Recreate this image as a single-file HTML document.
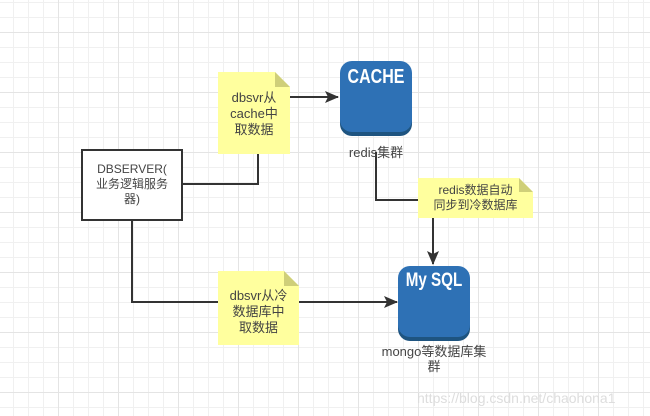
<!DOCTYPE html>
<html><head><meta charset="utf-8"><style>
body{margin:0;width:650px;height:416px;overflow:hidden;font-family:"Liberation Sans","Noto Sans CJK SC",sans-serif;
background-color:#fff;
background-image:linear-gradient(#e4e4e4 1px,transparent 1px),linear-gradient(90deg,#e4e4e4 1px,transparent 1px),linear-gradient(#f0f0f0 1px,transparent 1px),linear-gradient(90deg,#f0f0f0 1px,transparent 1px);
background-size:60px 60px,60px 60px,15px 15px,15px 15px;
background-position:0 32px,58px 0,0 2px,13px 0;}
.t{position:absolute;font-size:12px;color:#444;text-align:center;line-height:15px}
</style></head><body>
<svg width="650" height="416" style="position:absolute;left:0;top:0">
<defs>
<marker id="a" markerWidth="14" markerHeight="12" refX="13" refY="6" orient="auto" markerUnits="userSpaceOnUse"><path d="M0,0 L14,6 L0,12 L3,6z" fill="#333"/></marker>
</defs>
<g stroke="#333" stroke-width="2" fill="none">
<polyline points="182,184 258,184 258,97 338,97" marker-end="url(#a)"/>
<polyline points="376,152 376,200 433,200 433,264" marker-end="url(#a)"/>
<polyline points="132,220 132,302 397,302" marker-end="url(#a)"/>
</g>
<rect x="82" y="150" width="100" height="70" fill="#fff" stroke="#333" stroke-width="2"/>
<path d="M218,72 H275 L290,87 V154 H218Z" fill="#ffff9e"/><path d="M275,72 L290,87 H275Z" fill="#cfcf79"/>
<path d="M418,178 H519 L533,192 V218 H418Z" fill="#ffff9e"/><path d="M519,178 L533,192 H519Z" fill="#cfcf79"/>
<path d="M218,271 H284 L299,286 V345 H218Z" fill="#ffff9e"/><path d="M284,271 L299,286 H284Z" fill="#cfcf79"/>
<rect x="340" y="64" width="72" height="72" rx="12" fill="#1e5480"/>
<rect x="340" y="61" width="72" height="71" rx="12" fill="#2e71b5"/>
<rect x="398" y="269" width="72" height="72" rx="12" fill="#1e5480"/>
<rect x="398" y="266" width="72" height="71" rx="12" fill="#2e71b5"/>
</svg>
<div class="t" style="left:330px;top:64px;width:92px;color:#fff;font-weight:bold;font-size:20px;line-height:26px;transform:scaleX(0.8)">CACHE</div>
<div class="t" style="left:390px;top:268px;width:88px;color:#fff;font-weight:bold;font-size:19px;line-height:26px;transform:scaleX(0.8)">My SQL</div>
<div class="t" style="left:82px;top:162px;width:100px">DBSERVER(<br>业务逻辑服务<br>器)</div>
<div class="t" style="left:218px;top:90px;width:72px;font-size:13px;line-height:16px">dbsvr从<br>cache中<br>取数据</div>
<div class="t" style="left:418px;top:183px;width:115px">redis数据自动<br>同步到冷数据库</div>
<div class="t" style="left:218px;top:288px;width:81px;font-size:13px;line-height:16px">dbsvr从冷<br>数据库中<br>取数据</div>
<div class="t" style="left:330px;top:145px;width:92px;font-size:13px">redis集群</div>
<div class="t" style="left:374px;top:344px;width:120px;font-size:13px">mongo等数据库集<br>群</div>
<div class="t" style="left:417px;top:391px;width:230px;color:#ddd;font-size:14px;text-align:left">https://blog.csdn.net/chaohona1</div>
</body></html>
